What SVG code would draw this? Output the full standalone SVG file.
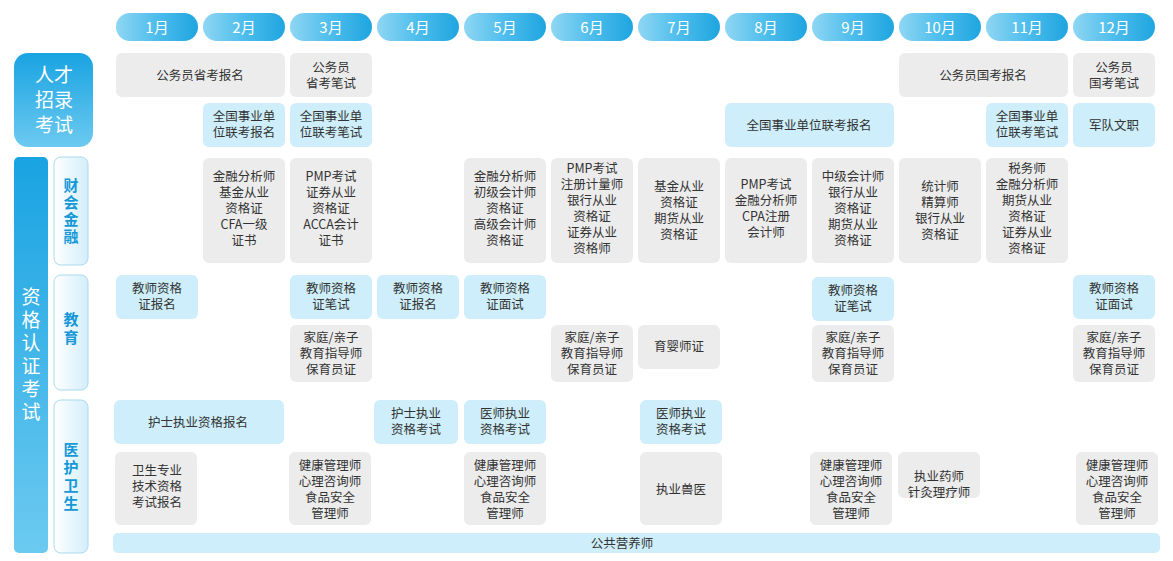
<svg xmlns="http://www.w3.org/2000/svg" width="1173" height="561" viewBox="0 0 1173 561">
<defs>
<linearGradient id="hg" x1="0" y1="0" x2="1" y2="0"><stop offset="0" stop-color="#8fd6f3"/><stop offset="0.5" stop-color="#4dbdec"/><stop offset="1" stop-color="#1fa5e0"/></linearGradient>
<linearGradient id="vg" x1="0" y1="0" x2="0" y2="1"><stop offset="0" stop-color="#19a3e2"/><stop offset="1" stop-color="#6ccaf0"/></linearGradient>
<linearGradient id="sg" x1="0" y1="0" x2="1" y2="0"><stop offset="0" stop-color="#ffffff"/><stop offset="1" stop-color="#d3eefa"/></linearGradient>
</defs>
<style>
text{font-family:"Noto Sans CJK SC","Liberation Sans",sans-serif;font-size:12.5px;fill:#333;text-anchor:middle}
.h{fill:url(#hg)}.ht{fill:#fff;font-size:15px}
.b{fill:#cdeefa}.g{fill:#ececec}
.sub{fill:url(#sg);stroke:#a9d9ef;stroke-width:1}
.st{fill:#1598d8;font-size:15px;font-weight:bold}
.big{fill:#fff;font-size:19px}
</style>
<rect width="1173" height="561" fill="#fff"/>
<g id="months">
<rect class="h" x="116" y="13" width="82" height="28" rx="14"/><text class="ht" x="157" y="33">1月</text>
<rect class="h" x="203" y="13" width="82" height="28" rx="14"/><text class="ht" x="244" y="33">2月</text>
<rect class="h" x="290" y="13" width="82" height="28" rx="14"/><text class="ht" x="331" y="33">3月</text>
<rect class="h" x="377" y="13" width="82" height="28" rx="14"/><text class="ht" x="418" y="33">4月</text>
<rect class="h" x="464" y="13" width="82" height="28" rx="14"/><text class="ht" x="505" y="33">5月</text>
<rect class="h" x="551" y="13" width="82" height="28" rx="14"/><text class="ht" x="592" y="33">6月</text>
<rect class="h" x="638" y="13" width="82" height="28" rx="14"/><text class="ht" x="679" y="33">7月</text>
<rect class="h" x="725" y="13" width="82" height="28" rx="14"/><text class="ht" x="766" y="33">8月</text>
<rect class="h" x="812" y="13" width="82" height="28" rx="14"/><text class="ht" x="853" y="33">9月</text>
<rect class="h" x="899" y="13" width="82" height="28" rx="14"/><text class="ht" x="940" y="33">10月</text>
<rect class="h" x="986" y="13" width="82" height="28" rx="14"/><text class="ht" x="1027" y="33">11月</text>
<rect class="h" x="1073" y="13" width="82" height="28" rx="14"/><text class="ht" x="1114" y="33">12月</text>
</g>
<g id="cat-talent">
<rect x="14" y="53" width="79" height="94" rx="14" fill="url(#vg)"/>
<text class="big" x="54" y="82">人才</text><text class="big" x="54" y="107">招录</text><text class="big" x="54" y="132">考试</text>
</g>
<g id="cat-qual">
<rect x="14" y="157" width="34" height="396" rx="5" fill="url(#vg)"/>
<text class="big" x="31" y="304">资</text><text class="big" x="31" y="327">格</text><text class="big" x="31" y="350">认</text><text class="big" x="31" y="373">证</text><text class="big" x="31" y="396">考</text><text class="big" x="31" y="419">试</text>
</g>
<g id="sub-fin"><rect class="sub" x="54" y="157" width="34" height="108" rx="7"/>
<text class="st" x="71" y="191">财</text><text class="st" x="71" y="208">会</text><text class="st" x="71" y="225">金</text><text class="st" x="71" y="242">融</text></g>
<g id="sub-edu"><rect class="sub" x="54" y="275" width="34" height="115" rx="7"/>
<text class="st" x="71" y="325">教</text><text class="st" x="71" y="343">育</text></g>
<g id="sub-med"><rect class="sub" x="54" y="400" width="34" height="153" rx="7"/>
<text class="st" x="71" y="455">医</text><text class="st" x="71" y="473">护</text><text class="st" x="71" y="491">卫</text><text class="st" x="71" y="509">生</text></g>

<g id="rowA">
<rect class="g" x="116" y="53" width="169" height="44" rx="6"/><text x="200" y="80">公务员省考报名</text>
<rect class="g" x="290" y="53" width="82" height="44" rx="6"/><text x="331" y="72">公务员</text><text x="331" y="88">省考笔试</text>
<rect class="g" x="899" y="53" width="169" height="44" rx="6"/><text x="983" y="80">公务员国考报名</text>
<rect class="g" x="1073" y="53" width="82" height="44" rx="6"/><text x="1114" y="72">公务员</text><text x="1114" y="88">国考笔试</text>
</g>
<g id="rowB">
<rect class="b" x="203" y="103" width="82" height="44" rx="6"/><text x="244" y="121">全国事业单</text><text x="244" y="137">位联考报名</text>
<rect class="b" x="290" y="103" width="82" height="44" rx="6"/><text x="331" y="121">全国事业单</text><text x="331" y="137">位联考笔试</text>
<rect class="b" x="725" y="103" width="169" height="44" rx="6"/><text x="809" y="130">全国事业单位联考报名</text>
<rect class="b" x="986" y="103" width="82" height="44" rx="6"/><text x="1027" y="121">全国事业单</text><text x="1027" y="137">位联考笔试</text>
<rect class="b" x="1073" y="103" width="82" height="44" rx="6"/><text x="1114" y="130">军队文职</text>
</g>
<g id="finance">
<rect class="g" x="203" y="158" width="82" height="105" rx="6"/><text x="244" y="181">金融分析师</text><text x="244" y="197">基金从业</text><text x="244" y="213">资格证</text><text x="244" y="229">CFA一级</text><text x="244" y="245">证书</text>
<rect class="g" x="290" y="158" width="82" height="105" rx="6"/><text x="331" y="181">PMP考试</text><text x="331" y="197">证券从业</text><text x="331" y="213">资格证</text><text x="331" y="229">ACCA会计</text><text x="331" y="245">证书</text>
<rect class="g" x="464" y="158" width="82" height="105" rx="6"/><text x="505" y="181">金融分析师</text><text x="505" y="197">初级会计师</text><text x="505" y="213">资格证</text><text x="505" y="229">高级会计师</text><text x="505" y="245">资格证</text>
<rect class="g" x="551" y="158" width="82" height="105" rx="6"/><text x="592" y="173">PMP考试</text><text x="592" y="189">注册计量师</text><text x="592" y="205">银行从业</text><text x="592" y="221">资格证</text><text x="592" y="237">证券从业</text><text x="592" y="253">资格师</text>
<rect class="g" x="638" y="158" width="82" height="105" rx="6"/><text x="679" y="191">基金从业</text><text x="679" y="207">资格证</text><text x="679" y="223">期货从业</text><text x="679" y="239">资格证</text>
<rect class="g" x="725" y="158" width="82" height="105" rx="6"/><text x="766" y="189">PMP考试</text><text x="766" y="205">金融分析师</text><text x="766" y="221">CPA注册</text><text x="766" y="237">会计师</text>
<rect class="g" x="812" y="158" width="82" height="105" rx="6"/><text x="853" y="181">中级会计师</text><text x="853" y="197">银行从业</text><text x="853" y="213">资格证</text><text x="853" y="229">期货从业</text><text x="853" y="245">资格证</text>
<rect class="g" x="899" y="158" width="82" height="105" rx="6"/><text x="940" y="191">统计师</text><text x="940" y="207">精算师</text><text x="940" y="223">银行从业</text><text x="940" y="239">资格证</text>
<rect class="g" x="986" y="158" width="82" height="105" rx="6"/><text x="1027" y="173">税务师</text><text x="1027" y="189">金融分析师</text><text x="1027" y="205">期货从业</text><text x="1027" y="221">资格证</text><text x="1027" y="237">证券从业</text><text x="1027" y="253">资格证</text>
</g>
<g id="edu1">
<rect class="b" x="116" y="275" width="82" height="44" rx="6"/><text x="157" y="293">教师资格</text><text x="157" y="309">证报名</text>
<rect class="b" x="290" y="275" width="82" height="44" rx="6"/><text x="331" y="293">教师资格</text><text x="331" y="309">证笔试</text>
<rect class="b" x="377" y="275" width="82" height="44" rx="6"/><text x="418" y="293">教师资格</text><text x="418" y="309">证报名</text>
<rect class="b" x="464" y="275" width="82" height="44" rx="6"/><text x="505" y="293">教师资格</text><text x="505" y="309">证面试</text>
<rect class="b" x="812" y="277" width="82" height="44" rx="6"/><text x="853" y="295">教师资格</text><text x="853" y="311">证笔试</text>
<rect class="b" x="1073" y="275" width="82" height="44" rx="6"/><text x="1114" y="293">教师资格</text><text x="1114" y="309">证面试</text>
</g>
<g id="edu2">
<rect class="g" x="290" y="325" width="82" height="57" rx="6"/><text x="331" y="342">家庭/亲子</text><text x="331" y="358">教育指导师</text><text x="331" y="374">保育员证</text>
<rect class="g" x="551" y="325" width="82" height="57" rx="6"/><text x="592" y="342">家庭/亲子</text><text x="592" y="358">教育指导师</text><text x="592" y="374">保育员证</text>
<rect class="g" x="638" y="325" width="82" height="44" rx="6"/><text x="679" y="351">育婴师证</text>
<rect class="g" x="812" y="325" width="82" height="57" rx="6"/><text x="853" y="342">家庭/亲子</text><text x="853" y="358">教育指导师</text><text x="853" y="374">保育员证</text>
<rect class="g" x="1073" y="325" width="82" height="57" rx="6"/><text x="1114" y="342">家庭/亲子</text><text x="1114" y="358">教育指导师</text><text x="1114" y="374">保育员证</text>
</g>
<g id="med1">
<rect class="b" x="114" y="400" width="170" height="44" rx="6"/><text x="198" y="427">护士执业资格报名</text>
<rect class="b" x="374" y="400" width="84" height="44" rx="6"/><text x="416" y="418">护士执业</text><text x="416" y="434">资格考试</text>
<rect class="b" x="464" y="400" width="82" height="44" rx="6"/><text x="505" y="418">医师执业</text><text x="505" y="434">资格考试</text>
<rect class="b" x="640" y="400" width="82" height="44" rx="6"/><text x="681" y="418">医师执业</text><text x="681" y="434">资格考试</text>
</g>
<g id="med2">
<rect class="g" x="115" y="452" width="82" height="73" rx="6"/><text x="157" y="475">卫生专业</text><text x="157" y="491">技术资格</text><text x="157" y="507">考试报名</text>
<rect class="g" x="289" y="452" width="82" height="73" rx="6"/><text x="330" y="470">健康管理师</text><text x="330" y="486">心理咨询师</text><text x="330" y="502">食品安全</text><text x="330" y="518">管理师</text>
<rect class="g" x="464" y="452" width="82" height="73" rx="6"/><text x="505" y="470">健康管理师</text><text x="505" y="486">心理咨询师</text><text x="505" y="502">食品安全</text><text x="505" y="518">管理师</text>
<rect class="g" x="640" y="452" width="82" height="73" rx="6"/><text x="681" y="494">执业兽医</text>
<rect class="g" x="810" y="452" width="82" height="73" rx="6"/><text x="851" y="470">健康管理师</text><text x="851" y="486">心理咨询师</text><text x="851" y="502">食品安全</text><text x="851" y="518">管理师</text>
<rect class="g" x="898" y="452" width="82" height="46" rx="6"/><text x="939" y="481">执业药师</text><text x="939" y="497">针灸理疗师</text>
<rect class="g" x="1076" y="452" width="82" height="73" rx="6"/><text x="1117" y="470">健康管理师</text><text x="1117" y="486">心理咨询师</text><text x="1117" y="502">食品安全</text><text x="1117" y="518">管理师</text>
</g>
<g id="nutrition">
<rect class="b" x="113" y="533" width="1047" height="20" rx="5"/><text x="622" y="548">公共营养师</text>
</g>
<g id="connectors"/>
</svg>
